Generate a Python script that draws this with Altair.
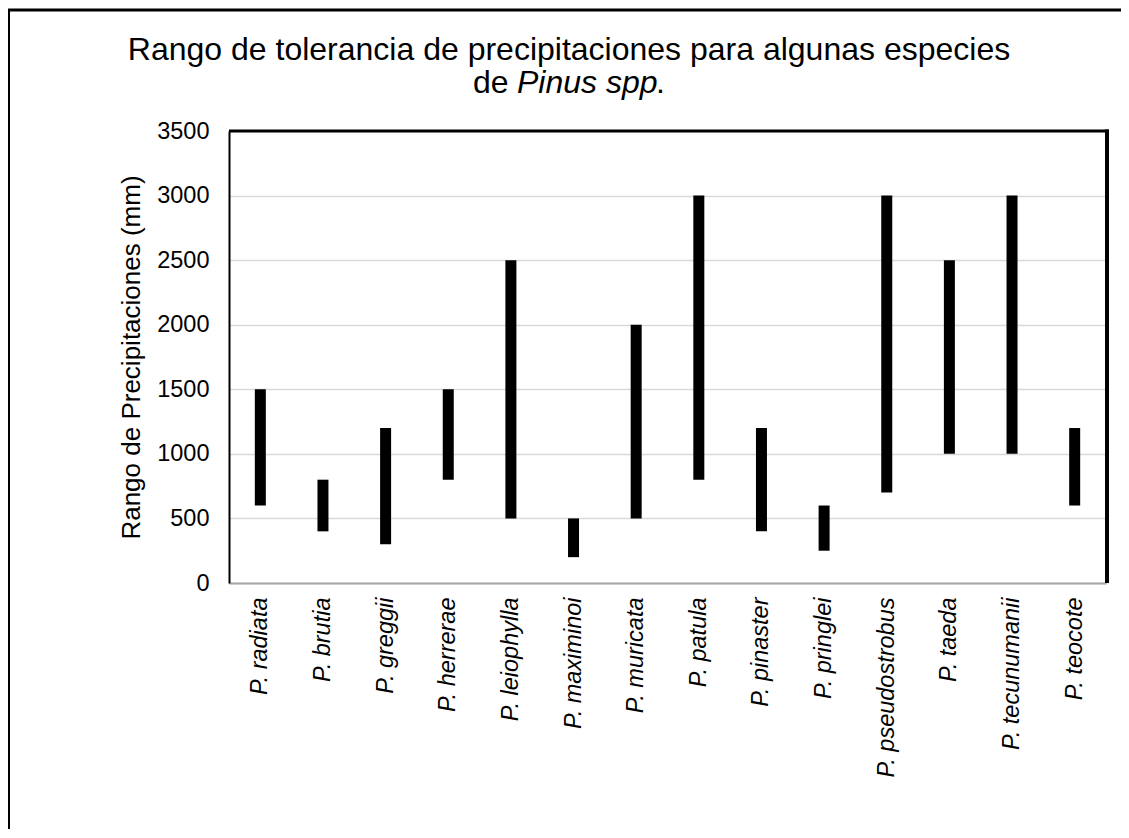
import altair as alt
import pandas as pd

species = ["P. radiata", "P. brutia", "P. greggii", "P. herrerae", "P. leiophylla",
           "P. maximinoi", "P. muricata", "P. patula", "P. pinaster", "P. pringlei",
           "P. pseudostrobus", "P. taeda", "P. tecunumanii", "P. teocote"]
low = [600, 400, 300, 800, 500, 200, 500, 800, 400, 250, 700, 1000, 1000, 600]
high = [1500, 800, 1200, 1500, 2500, 500, 2000, 3000, 1200, 600, 3000, 2500, 3000, 1200]
y_ticks = [0, 500, 1000, 1500, 2000, 2500, 3000, 3500]

title_line1 = "Rango de tolerancia de precipitaciones para algunas especies"
title_l2a = "de "
title_l2b = "Pinus spp"
title_l2c = "."
y_title = "Rango de Precipitaciones (mm)"

FONT = "Liberation Sans"
W, H = 877, 452

df = pd.DataFrame({"especie": species, "min": low, "max": high})
one = pd.DataFrame({"a": [0]})

bars = alt.Chart(df).mark_bar(color="black", size=11).encode(
    x=alt.X("especie:N", sort=species, title=None,
            scale=alt.Scale(paddingInner=0, paddingOuter=0),
            axis=alt.Axis(labelAngle=-90, labelFontStyle="italic", labelFontSize=23.5,
                          labelFont=FONT, labelColor="black", ticks=False, labelPadding=14,
                          domainColor="#a6a6a6", domainWidth=2, grid=False)),
    y=alt.Y("min:Q", scale=alt.Scale(domain=[0, 3500]),
            axis=alt.Axis(values=y_ticks, format="d", title=y_title, titleFontSize=26,
                          titleFont=FONT, titleFontWeight="normal", titleColor="black",
                          titlePadding=12, labelFontSize=23.5, labelFont=FONT,
                          labelColor="black", labelPadding=20, ticks=False,
                          domainColor="black", domainWidth=2,
                          gridColor="#d9d9d9", gridWidth=1.5)),
    y2="max:Q",
)

top_rule = alt.Chart(one).mark_rule(color="black", strokeWidth=3).encode(
    x=alt.value(0), x2=alt.value(W + 3), y=alt.value(0))
right_rule = alt.Chart(one).mark_rule(color="black", strokeWidth=4).encode(
    x=alt.value(W + 1), y=alt.value(-1.5), y2=alt.value(H))

frame = alt.Chart(one).mark_rect(fill="transparent", stroke="black", strokeWidth=3).encode(
    x=alt.value(-220.5), x2=alt.value(W + 100), y=alt.value(-121), y2=alt.value(H + 300))

t1 = alt.Chart(one).mark_text(text=title_line1, font=FONT, fontSize=32, align="center",
                              baseline="alphabetic", color="black").encode(
    x=alt.value(340), y=alt.value(-71))
t2a = alt.Chart(one).mark_text(text=title_l2a, font=FONT, fontSize=32, align="left",
                               baseline="alphabetic", color="black").encode(
    x=alt.value(244), y=alt.value(-38))
t2b = alt.Chart(one).mark_text(text=title_l2b, font=FONT, fontSize=32, align="left",
                               fontStyle="italic", baseline="alphabetic", color="black").encode(
    x=alt.value(288), y=alt.value(-38))
t2c = alt.Chart(one).mark_text(text=title_l2c, font=FONT, fontSize=32, align="left",
                               baseline="alphabetic", color="black").encode(
    x=alt.value(427), y=alt.value(-38))

chart = alt.layer(frame, bars, top_rule, right_rule, t1, t2a, t2b, t2c).properties(
    width=W, height=H,
    autosize=alt.AutoSizeParams(type="none"),
    padding={"left": 221, "top": 123, "right": 15, "bottom": 246},
).configure_view(stroke=None).configure(background="white")

chart.save("out.html", embed_options={"renderer": "svg", "actions": False})
